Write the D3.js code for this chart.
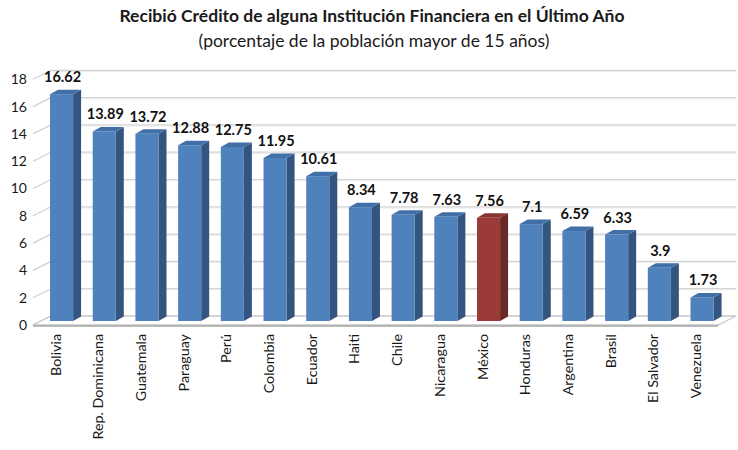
<!DOCTYPE html>
<html><head><meta charset="utf-8">
<script src="https://cdn.jsdelivr.net/npm/d3@7"></script>
<style>body{margin:0;background:#fff}svg{display:block}</style>
</head><body>
<svg id="c" width="738" height="450"></svg>
<script>
const categories = ["Bolivia","Rep. Dominicana","Guatemala","Paraguay","Perú","Colombia","Ecuador","Haiti","Chile","Nicaragua","México","Honduras","Argentina","Brasil","El Salvador","Venezuela"];
const values = [16.62,13.89,13.72,12.88,12.75,11.95,10.61,8.34,7.78,7.63,7.56,7.1,6.59,6.33,3.9,1.73];
const valueLabels = ["16.62","13.89","13.72","12.88","12.75","11.95","10.61","8.34","7.78","7.63","7.56","7.1","6.59","6.33","3.9","1.73"];
const highlight = ["México"];
const yTicks = [0,2,4,6,8,10,12,14,16,18];
const title = "Recibió Crédito de alguna Institución Financiera en el Último Año";
const subtitle = "(porcentaje de la población mayor de 15 años)";

const svg = d3.select("#c");
const font = "Lato, 'Open Sans', sans-serif";

const x = d3.scaleBand().domain(categories).range([30.4, 733.2]).padding(0.46);
const y = d3.scaleLinear().domain([0, 18]).range([321, 321 - 18 * 13.65]);

// 3D geometry offsets
const floorFront = 4, floorBack = -5, wallDx = 18, leftX = 33;
const bdx = 8, bdy = 4.5;

// title
svg.append("text").attr("x", 372).attr("y", 22).attr("text-anchor", "middle")
  .style("font-family", font).style("font-weight", "bold").style("font-size", "17.5px").style("fill", "#1a1a1a").text(title);
svg.append("text").attr("x", 374).attr("y", 47).attr("text-anchor", "middle")
  .style("font-family", font).style("font-size", "17.5px").style("fill", "#1a1a1a").text(subtitle);

const g = svg.append("g");
const xRight = 718;

// back wall gridlines
yTicks.forEach(t => {
  if (t === 0) return;
  const yb = y(t) + floorBack;
  g.append("line").attr("x1", leftX + wallDx).attr("x2", 736).attr("y1", yb + 1.2).attr("y2", yb + 1.2)
    .attr("stroke", "#ececec").attr("stroke-width", 1);
  g.append("line").attr("x1", leftX + wallDx).attr("x2", 736).attr("y1", yb).attr("y2", yb)
    .attr("stroke", "#d4d4d4").attr("stroke-width", 1.2);
});
// left wall diagonal ticks
yTicks.forEach(t => {
  g.append("line").attr("x1", leftX).attr("y1", y(t) + floorFront).attr("x2", leftX + wallDx).attr("y2", y(t) + floorBack)
    .attr("stroke", "#cfcfcf").attr("stroke-width", 1.2);
});
// floor
const f0 = y(0);
g.append("polygon")
  .attr("points", [[leftX, f0 + floorFront], [xRight, f0 + floorFront], [xRight + wallDx, f0 + floorBack], [leftX + wallDx, f0 + floorBack]].map(p => p.join(",")).join(" "))
  .attr("fill", "#fff").attr("stroke", "#c8c8c8").attr("stroke-width", 1.3);
g.append("line").attr("x1", leftX).attr("x2", xRight).attr("y1", f0 + floorFront + 1).attr("y2", f0 + floorFront + 1)
  .attr("stroke", "#a6a6a6").attr("stroke-width", 1.5);

// y labels
svg.append("g").selectAll("text").data(yTicks).join("text")
  .attr("x", 27).attr("y", d => y(d) + floorFront).attr("dy", "0.35em").attr("text-anchor", "end")
  .style("font-family", font).style("font-size", "14px").style("fill", "#1a1a1a").text(d => d);

// bars
const data = categories.map((c, i) => ({ c, v: values[i], l: valueLabels[i] }));
const bars = svg.append("g").selectAll("g").data(data).join("g");
const col = d => highlight.includes(d.c)
  ? { front: "#9b3b38", side: "#6a2826", top: "#8a3431" }
  : { front: "#4f81bd", side: "#34557f", top: "#416fa7" };
bars.append("polygon").attr("points", d => {
  const x0 = x(d.c) + x.bandwidth(), yt = y(d.v), yb = y(0);
  return [[x0, yt], [x0 + bdx, yt - bdy], [x0 + bdx, yb - bdy], [x0, yb]].map(p => p.join(",")).join(" ");
}).attr("fill", d => col(d).side);
bars.append("polygon").attr("points", d => {
  const x0 = x(d.c), x1 = x0 + x.bandwidth(), yt = y(d.v);
  return [[x0, yt], [x0 + bdx, yt - bdy], [x1 + bdx, yt - bdy], [x1, yt]].map(p => p.join(",")).join(" ");
}).attr("fill", d => col(d).top);
bars.append("rect").attr("x", d => x(d.c)).attr("y", d => y(d.v))
  .attr("width", x.bandwidth()).attr("height", d => y(0) - y(d.v)).attr("fill", d => col(d).front);

// value labels
bars.append("text").attr("x", d => x(d.c) + x.bandwidth() / 2 + 1).attr("y", d => y(d.v) - 12)
  .attr("text-anchor", "middle").style("font-family", font).style("font-weight", "bold").style("font-size", "14.5px")
  .style("fill", "#111").text(d => d.l);

// category labels
svg.append("g").selectAll("text").data(categories).join("text")
  .attr("transform", d => `translate(${x(d) + x.bandwidth() / 2 - 6},334) rotate(-90)`)
  .attr("dy", "0.35em").attr("text-anchor", "end")
  .style("font-family", font).style("font-size", "14.3px").style("fill", "#1a1a1a").text(d => d);
</script>
</body></html>
